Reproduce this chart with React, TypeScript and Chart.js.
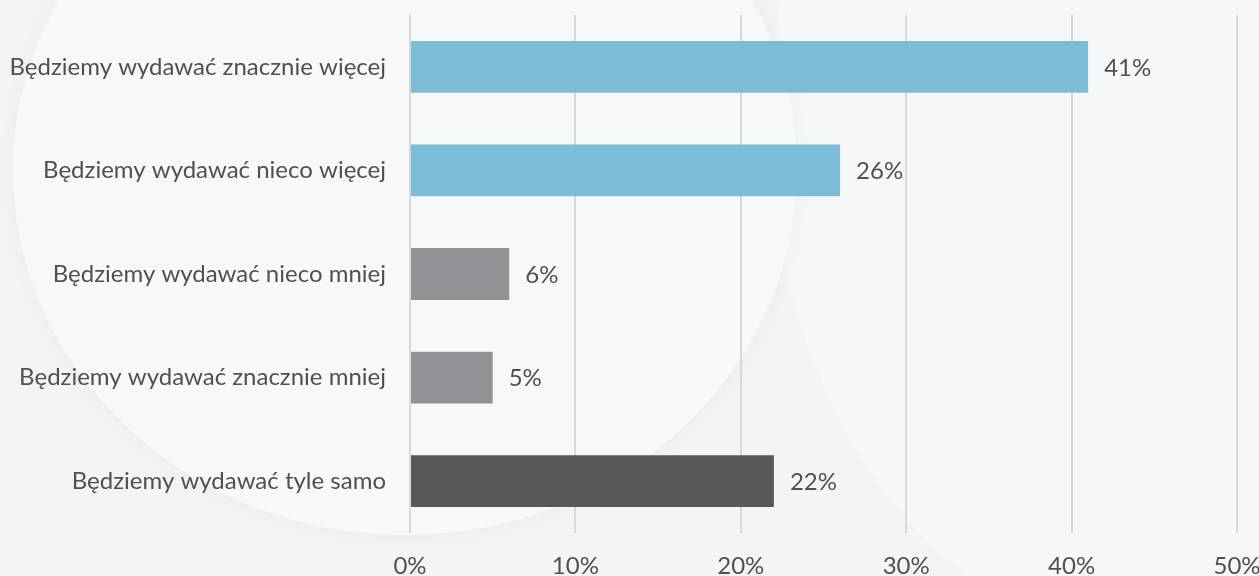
import React, { useEffect, useRef } from "react";
import { Chart, registerables } from "chart.js";

Chart.register(...registerables);

const categories = [
  "Będziemy wydawać znacznie więcej",
  "Będziemy wydawać nieco więcej",
  "Będziemy wydawać nieco mniej",
  "Będziemy wydawać znacznie mniej",
  "Będziemy wydawać tyle samo",
];
const values = [41, 26, 6, 5, 22];
const barColors = ["#7bbcd6", "#7bbcd6", "#929296", "#929296", "#58585a"];
const xTicks = [0, 10, 20, 30, 40, 50];

const FONT = "Lato, 'Open Sans', sans-serif";
const TEXT = "#505050";
const FS = 24;

const bgPlugin = {
  id: "bgPlugin",
  beforeDraw(chart: any) {
    const { ctx, width, height } = chart;
    ctx.save();
    ctx.fillStyle = "#f3f4f6";
    ctx.fillRect(0, 0, width, height);
    // faint lighter region on the right
    ctx.beginPath();
    ctx.ellipse(1150, 120, 380, 520, 0, 0, Math.PI * 2);
    ctx.fillStyle = "#f6f7f9";
    ctx.fill();
    // big soft circle on the left
    ctx.shadowColor = "rgba(0,0,0,0.04)";
    ctx.shadowBlur = 30;
    ctx.beginPath();
    ctx.ellipse(405, 170, 392, 365, 0, 0, Math.PI * 2);
    ctx.fillStyle = "#f7f8fa";
    ctx.fill();
    ctx.restore();
  },
};

const labelPlugin = {
  id: "labelPlugin",
  afterDatasetsDraw(chart: any) {
    const { ctx } = chart;
    const meta = chart.getDatasetMeta(0);
    ctx.save();
    ctx.font = `${FS}px ${FONT}`;
    ctx.fillStyle = TEXT;
    ctx.textAlign = "left";
    ctx.textBaseline = "middle";
    meta.data.forEach((bar: any, i: number) => {
      ctx.fillText(values[i] + "%", bar.x + 16, bar.y + 1);
    });
    ctx.restore();
  },
};

function zeroPad(axis: any) {
  axis.paddingTop = 0;
  axis.paddingBottom = 0;
  axis.paddingLeft = 0;
  axis.paddingRight = 0;
}

export default function App() {
  const ref = useRef<HTMLCanvasElement>(null);
  useEffect(() => {
    document.body.style.margin = "0";
    const chart = new Chart(ref.current!, {
      type: "bar",
      data: {
        labels: categories,
        datasets: [
          {
            data: values,
            backgroundColor: barColors,
            barPercentage: 0.5,
            categoryPercentage: 1,
          },
        ],
      },
      options: {
        indexAxis: "y",
        animation: false,
        responsive: false,
        maintainAspectRatio: false,
        layout: { padding: { top: 15, right: 22, left: 0, bottom: 0 } },
        plugins: { legend: { display: false }, tooltip: { enabled: false } },
        scales: {
          x: {
            min: 0,
            max: 50,
            afterBuildTicks(axis: any) {
              axis.ticks = xTicks.map((v) => ({ value: v }));
            },
            afterFit(axis: any) {
              axis.height = 43;
              zeroPad(axis);
            },
            grid: { color: "#d9d9d9", lineWidth: 2, drawTicks: false },
            border: { display: false },
            ticks: {
              padding: 19,
              color: TEXT,
              font: { family: FONT, size: FS },
              callback: (v: any) => v + "%",
            },
          },
          y: {
            afterFit(axis: any) {
              axis.width = 410;
              zeroPad(axis);
            },
            grid: { display: false, drawTicks: false },
            border: { display: false },
            ticks: {
              padding: 24,
              color: TEXT,
              font: { family: FONT, size: FS },
            },
          },
        },
      },
      plugins: [bgPlugin, labelPlugin],
    });
    return () => chart.destroy();
  }, []);
  return (
    <div style={{ width: 1259, height: 576 }}>
      <canvas ref={ref} width={1259} height={576} />
    </div>
  );
}
